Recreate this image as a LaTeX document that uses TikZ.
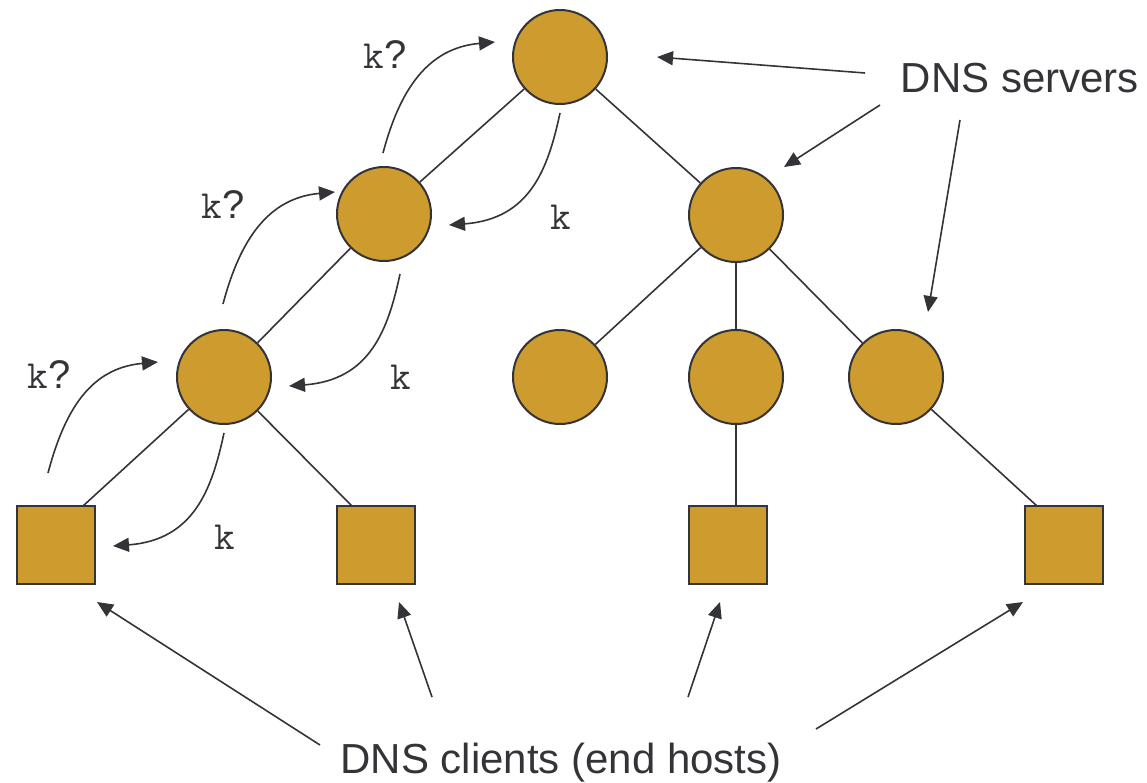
\documentclass[tikz,border=0pt]{standalone}
\usepackage{fontspec}
\setmainfont{Liberation Sans}
\usetikzlibrary{arrows.meta,calc}
\definecolor{gold}{RGB}{205,155,46}
\definecolor{ink}{RGB}{52,52,56}
\begin{document}
\begin{tikzpicture}[x=1pt,y=-1pt,
 srv/.style={circle,draw=ink,fill=gold,line width=2pt,minimum size=94pt,inner sep=0pt},
 host/.style={rectangle,draw=ink,fill=gold,line width=2pt,minimum size=78pt,inner sep=0pt},
 link/.style={draw=ink,line width=1.6pt},
 ptr/.style={draw=ink,line width=1.6pt,-{Triangle[length=16pt,width=14pt]}},
 lbl/.style={text=ink,font=\fontsize{42}{50}\selectfont,inner sep=0pt,anchor=base},
 kq/.style={text=ink,inner sep=0pt,font=\fontsize{40}{46}\selectfont}
]
\useasboundingbox (0,0) rectangle (1147,782);

% servers
\node[srv] (root) at (560,57) {};
\node[srv] (l2a) at (384,214) {};
\node[srv] (l2b) at (736,215) {};
\node[srv] (l3a) at (224,377) {};
\node[srv] (l3b) at (560,377) {};
\node[srv] (l3c) at (736,377) {};
\node[srv] (l3d) at (896,377) {};
% hosts
\node[host] (s1) at (56,545) {};
\node[host] (s2) at (376,545) {};
\node[host] (s3) at (728,545) {};
\node[host] (s4) at (1064,545) {};

% tree links
\draw[link] (root) -- (l2a);
\draw[link] (root) -- (l2b);
\draw[link] (l2a) -- (l3a);
\draw[link] (l2b) -- (l3b);
\draw[link] (l2b) -- (l3c);
\draw[link] (l2b) -- (l3d);
\draw[link] (l3a) -- ($(s1.north)+(27,1)$);
\draw[link] (l3a) -- ($(s2.north)+(-24,1)$);
\draw[link] (l3c.south) -- ($(l3c.south |- s3.north)+(0,1)$);
\draw[link] (l3d) -- ($(s4.north)+(-27,1)$);

% query / answer arrows
\coordinate (q1s) at (383,153); \coordinate (q1e) at (495,42);
\coordinate (q2s) at (223,304); \coordinate (q2e) at (335,192);
\coordinate (q3s) at (48,473);  \coordinate (q3e) at (158,362);
\coordinate (a1s) at (560,113); \coordinate (a1e) at (449,225);
\coordinate (a2s) at (400,274); \coordinate (a2e) at (289,386);
\coordinate (a3s) at (224,433); \coordinate (a3e) at (113,546);
\foreach \i in {1,2,3}{
  \draw[ptr] (q\i s) .. controls +(17,-64) and +(-67,6) .. (q\i e);
  \draw[ptr] (a\i s) .. controls +(-12,56) and +(81,-6) .. (a\i e);
}
\node[kq] (kq1) at (385,55) {\ttfamily k\rmfamily ?};
\node[kq] (kq2) at (223,205) {\ttfamily k\rmfamily ?};
\node[kq] (kq3) at (49,375) {\ttfamily k\rmfamily ?};
\node[kq] (k1) at (561,217) {\ttfamily k};
\node[kq] (k2) at (401,377) {\ttfamily k};
\node[kq] (k3) at (225,537) {\ttfamily k};

% labels
\node[lbl] (servers) at (1020,92) {DNS servers};
\node[lbl] (clients) at (561,773) {DNS clients (end hosts)};

% pointer arrows
\coordinate (p1s) at (865,73);  \coordinate (p1e) at (657,57);
\coordinate (p2s) at (880,105); \coordinate (p2e) at (784,167);
\coordinate (p3s) at (960,120); \coordinate (p3e) at (928,312);
\coordinate (c1s) at (320,745); \coordinate (c1e) at (97,602);
\coordinate (c2s) at (432,697); \coordinate (c2e) at (399,602);
\coordinate (c3s) at (688,697); \coordinate (c3e) at (720,602);
\coordinate (c4s) at (816,729); \coordinate (c4e) at (1023,602);
\foreach \p in {p1,p2,p3,c1,c2,c3,c4}{
  \draw[ptr] (\p s) -- (\p e);
}
\end{tikzpicture}
\end{document}
